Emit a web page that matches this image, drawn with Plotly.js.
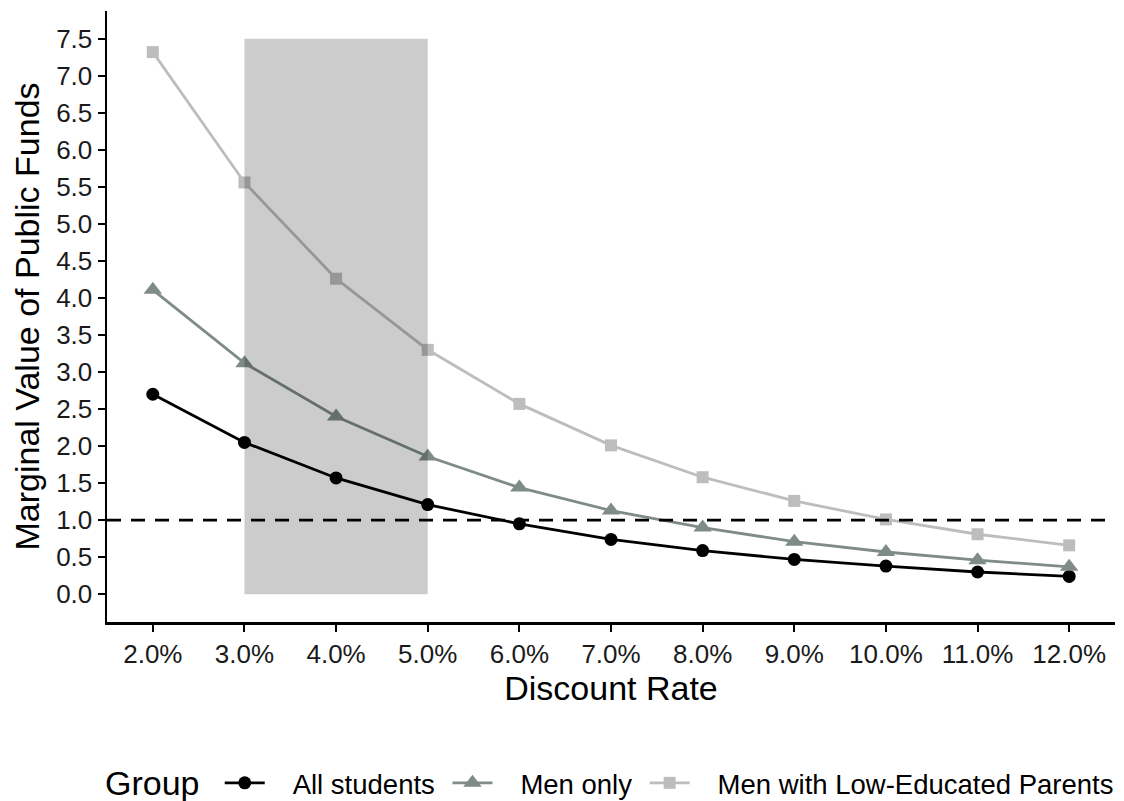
<!DOCTYPE html>
<html>
<head>
<meta charset="utf-8">
<script src="https://cdn.plot.ly/plotly-3.0.1.min.js"></script>
<style>
  html, body { margin: 0; padding: 0; background: #ffffff; }
  #chart { width: 1124px; height: 801px; }
</style>
</head>
<body>
<div id="chart"></div>
<script>
// Discount rates (percent)
const discountRates = [2, 3, 4, 5, 6, 7, 8, 9, 10, 11, 12];
const rateLabels = ["2.0%", "3.0%", "4.0%", "5.0%", "6.0%", "7.0%", "8.0%", "9.0%", "10.0%", "11.0%", "12.0%"];

// Marginal value of public funds by group
const allStudents = [2.70, 2.05, 1.57, 1.21, 0.95, 0.74, 0.59, 0.47, 0.38, 0.30, 0.24];
const menOnly = [4.11, 3.12, 2.40, 1.86, 1.44, 1.13, 0.90, 0.71, 0.57, 0.46, 0.37];
const menLowEdParents = [7.32, 5.56, 4.26, 3.30, 2.57, 2.01, 1.58, 1.26, 1.01, 0.81, 0.66];

const groupNames = ["All students", "Men only", "Men with Low-Educated Parents"];
const legendTitle = "Group";

// Shaded band of plausible discount rates and break-even reference
const bandRates = [3, 5];
const bandValues = [0, 7.5];
const breakEven = 1.0;

const yTicks = [0, 0.5, 1, 1.5, 2, 2.5, 3, 3.5, 4, 4.5, 5, 5.5, 6, 6.5, 7, 7.5];
const yTickLabels = yTicks.map(v => v.toFixed(1));

const fontFamily = "'Liberation Sans', Arial, Helvetica, sans-serif";
const legendPad = "\u00a0\u00a0\u00a0";

function series(y, name, color, symbol, size) {
  return {
    x: discountRates, y: y, name: legendPad + name + "\u00a0", type: "scatter", mode: "lines+markers",
    line: { color: color, width: 2.8 },
    marker: { color: color, symbol: symbol, size: size, line: { width: 0 } },
    cliponaxis: false
  };
}

const traces = [
  series(allStudents, groupNames[0], "#000000", "circle", 13),
  series(menOnly, groupNames[1], "#7f8b89", "triangle-up", 16),
  series(menLowEdParents, groupNames[2], "#bdbdbd", "square", 12)
];

const layout = {
  width: 1124, height: 801,
  paper_bgcolor: "#ffffff", plot_bgcolor: "#ffffff",
  margin: { l: 107, r: 9, t: 11, b: 179, autoexpand: false },
  font: { family: fontFamily, color: "#000000", size: 26 },
  showlegend: true,
  legend: {
    orientation: "h", x: 0.1955, xref: "container", xanchor: "left",
    y: 0.0225, yref: "container", yanchor: "middle",
    font: { size: 27.5, color: "#000000" },
    itemwidth: 40, tracegroupgap: 0, traceorder: "normal"
  },
  annotations: [
    {
      text: legendTitle, xref: "paper", yref: "paper", x: -0.004, y: -0.2635,
      xanchor: "left", yanchor: "middle", showarrow: false,
      font: { size: 34, color: "#000000" }
    }
  ],
  xaxis: {
    range: [1.5, 12.5], showgrid: false, zeroline: false,
    showline: true, linecolor: "#000000", linewidth: 2.5,
    ticks: "outside", ticklen: 7, tickwidth: 2, tickcolor: "#000000",
    tickvals: discountRates, ticktext: rateLabels,
    tickfont: { size: 26, color: "#1a1a1a" },
    title: { text: "Discount Rate", font: { size: 34, color: "#000000" }, standoff: 6 }
  },
  yaxis: {
    range: [-0.375, 7.875], showgrid: false, zeroline: false,
    showline: true, linecolor: "#000000", linewidth: 2.5,
    ticks: "outside", ticklen: 7, tickwidth: 2, tickcolor: "#000000",
    tickvals: yTicks, ticktext: yTickLabels,
    tickfont: { size: 26, color: "#1a1a1a" },
    title: { text: "Marginal Value of Public Funds", font: { size: 34, color: "#000000" }, standoff: 6 }
  },
  shapes: [
    {
      type: "line", xref: "paper", yref: "y", x0: 0, x1: 1, y0: breakEven, y1: breakEven,
      line: { color: "#000000", width: 2.8, dash: "14px,10px" }, layer: "above"
    },
    {
      type: "rect", xref: "x", yref: "y",
      x0: bandRates[0], x1: bandRates[1], y0: bandValues[0], y1: bandValues[1],
      fillcolor: "rgba(0,0,0,0.2)", line: { width: 0 }, layer: "above"
    }
  ]
};

Plotly.newPlot("chart", traces, layout, { displayModeBar: false, staticPlot: true });
</script>
</body>
</html>
